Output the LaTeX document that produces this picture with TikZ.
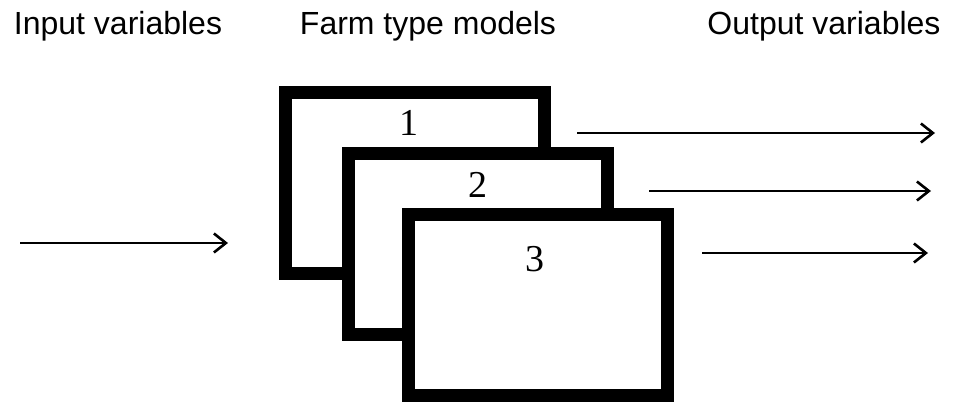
\documentclass[tikz,border=0pt]{standalone}
\usepackage{fontspec}
\setmainfont{Liberation Serif}
\newfontfamily\headfont{Liberation Sans}
\usetikzlibrary{arrows.meta}
\begin{document}
\begin{tikzpicture}[x=1pt,y=-1pt,
  frame/.style={draw=black,fill=white,line width=13pt,rectangle,inner sep=0pt,minimum width=259pt,minimum height=181pt},
  num/.style={inner sep=0pt,anchor=base,font=\fontsize{38}{40}\selectfont},
  head/.style={inner sep=0pt,anchor=base,font=\headfont\fontsize{32}{35}\selectfont},
  flow/.style={line width=2.6pt,-{Straight Barb[length=12pt,width=19pt,line width=2.6pt]}}]
\useasboundingbox (0,0) rectangle (954,403);
\node[head] (h1) at (118,35) {Input variables};
\node[head] (h2) at (428,35) {Farm type models};
\node[head] (h3) at (824,35) {Output variables};
\node[frame] (b1) at (415,183.5) {};
\node[frame] (b2) at (477.5,244.5) {};
\node[frame] (b3) at (538,305) {};
\node[num] (n1) at (409,136) {1};
\node[num] (n2) at (478,198) {2};
\node[num] (n3) at (535,272) {3};
\coordinate (i0) at (20,243);
\coordinate (i1) at (228,243);
\coordinate (o1a) at (577,133);
\coordinate (o1b) at (935,133);
\coordinate (o2a) at (649,191);
\coordinate (o2b) at (931,191);
\coordinate (o3a) at (702,253);
\coordinate (o3b) at (928,253);
\draw[flow] (i0) -- (i1);
\draw[flow] (o1a) -- (o1b);
\draw[flow] (o2a) -- (o2b);
\draw[flow] (o3a) -- (o3b);
\end{tikzpicture}
\end{document}
